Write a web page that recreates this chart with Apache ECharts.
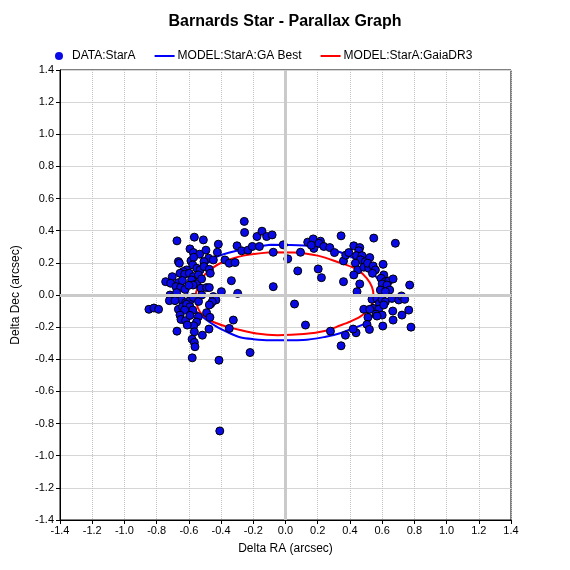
<!DOCTYPE html>
<html>
<head>
<meta charset="utf-8">
<script src="https://cdn.jsdelivr.net/npm/echarts@6/dist/echarts.min.js"></script>
<style>
  html, body { margin: 0; padding: 0; background: #fff; }
  #chart { width: 570px; height: 570px; }
</style>
</head>
<body>
<div id="chart"></div>
<script>
// measured positions of Barnard's Star (delta RA, delta Dec in arcsec)
var starA = [
  [-0.256, 0.458], [-0.254, 0.389], [-0.177, 0.364], [-0.146, 0.397], [-0.117, 0.364],
  [-0.566, 0.360], [-0.51, 0.343], [-0.674, 0.337], [-0.417, 0.316],
  [-0.593, 0.287], [-0.572, 0.264], [-0.533, 0.254], [-0.494, 0.279], [-0.423, 0.266],
  [-0.301, 0.306], [-0.272, 0.275], [-0.233, 0.279], [-0.206, 0.302], [-0.162, 0.302],
  [-0.665, 0.208], [-0.659, 0.198], [-0.587, 0.212], [-0.57, 0.235], [-0.477, 0.229],
  [-0.448, 0.218], [-0.506, 0.208], [-0.376, 0.218], [-0.349, 0.198], [-0.313, 0.202],
  [-0.614, 0.156], [-0.635, 0.146], [-0.576, 0.187], [-0.55, 0.166], [-0.53, 0.156],
  [-0.506, 0.177], [-0.473, 0.160], [-0.467, 0.135],
  [-0.655, 0.135], [-0.626, 0.129], [-0.597, 0.135], [-0.572, 0.114], [-0.541, 0.125],
  [-0.703, 0.114], [-0.744, 0.083], [-0.713, 0.073], [-0.665, 0.077], [-0.68, 0.052],
  [-0.651, 0.048], [-0.624, 0.035], [-0.583, 0.094], [-0.552, 0.069], [-0.574, 0.062],
  [-0.521, 0.1], [-0.525, 0.042], [-0.49, 0.046], [-0.473, 0.046], [-0.60, 0.06], [-0.64, 0.09],
  [-0.336, 0.089], [-0.297, 0.010], [-0.398, 0.021],
  [-0.717, 0.0], [-0.697, -0.01], [-0.676, 0.015], [-0.645, -0.031], [-0.721, -0.035],
  [-0.686, -0.035], [-0.62, -0.048], [-0.593, -0.035], [-0.572, -0.015], [-0.54, -0.04],
  [-0.52, 0.0], [-0.448, -0.01], [-0.432, -0.031], [-0.465, -0.056], [-0.455, -0.042], [-0.473, -0.062],
  [-0.848, -0.089], [-0.817, -0.081], [-0.788, -0.089],
  [-0.665, -0.089], [-0.64, -0.073], [-0.614, -0.058], [-0.593, -0.073], [-0.576, -0.094], [-0.626, -0.094],
  [-0.655, -0.125], [-0.649, -0.152], [-0.62, -0.16], [-0.593, -0.127], [-0.541, -0.135],
  [-0.49, -0.11], [-0.469, -0.139],
  [-0.552, -0.168], [-0.57, -0.191], [-0.61, -0.187], [-0.566, -0.229], [-0.475, -0.212],
  [-0.516, -0.25], [-0.674, -0.225],
  [-0.58, -0.275], [-0.566, -0.295], [-0.562, -0.322], [-0.579, -0.391], [-0.413, -0.406],
  [-0.22, -0.358], [-0.324, -0.156], [-0.349, -0.208], [-0.408, -0.846],
  [-0.083, 0.374], [-0.076, 0.266], [-0.076, 0.052],
  [-0.014, 0.312], [0.014, 0.225], [0.056, -0.056], [0.076, 0.150], [0.093, 0.266],
  [0.138, 0.329], [0.172, 0.349], [0.217, 0.335], [0.176, 0.29], [0.207, 0.322], [0.238, 0.302],
  [0.275, 0.295], [0.304, 0.264], [0.345, 0.368], [0.203, 0.162], [0.223, 0.108], [0.16, 0.31],
  [0.124, -0.187], [0.279, -0.225], [0.345, -0.316], [0.372, -0.25], [0.438, -0.235], [0.42, -0.212],
  [0.36, 0.083], [0.36, 0.212], [0.374, 0.248], [0.393, 0.264], [0.424, 0.306], [0.461, 0.295],
  [0.455, 0.275], [0.44, 0.245], [0.475, 0.245], [0.465, 0.219], [0.496, 0.208], [0.523, 0.233],
  [0.548, 0.354], [0.682, 0.322],
  [0.434, 0.198], [0.449, 0.156], [0.424, 0.125], [0.486, 0.173], [0.517, 0.166], [0.51, 0.198],
  [0.544, 0.181], [0.558, 0.156], [0.606, 0.191], [0.54, 0.135],
  [0.461, 0.069], [0.444, 0.021],
  [0.61, 0.125], [0.593, 0.104], [0.62, 0.083], [0.641, 0.087], [0.668, 0.1], [0.6, 0.069],
  [0.63, 0.062], [0.647, 0.031], [0.589, 0.031], [0.62, 0.021], [0.771, 0.062],
  [0.537, -0.027], [0.568, -0.021], [0.583, -0.052], [0.6, -0.027], [0.62, -0.042], [0.661, -0.021],
  [0.703, -0.031], [0.72, -0.006], [0.74, -0.027], [0.543, -0.083], [0.579, -0.089], [0.61, -0.062],
  [0.562, -0.119], [0.6, -0.125],
  [0.486, -0.089], [0.523, -0.089], [0.512, -0.139], [0.568, -0.131], [0.666, -0.1], [0.765, -0.094],
  [0.723, -0.125], [0.668, -0.156], [0.506, -0.183], [0.521, -0.214], [0.604, -0.193], [0.779, -0.2]
]

// model orbit, GA best fit
var gaBest = [
  [-0.093, 0.312], [0.114, 0.308], [0.217, 0.298], [0.3, 0.28], [0.39, 0.245], [0.48, 0.195],
  [0.55, 0.13], [0.595, 0.06], [0.61, 0.0], [0.6, -0.05], [0.57, -0.1], [0.53, -0.145],
  [0.495, -0.176], [0.422, -0.207], [0.339, -0.238], [0.25, -0.26], [0.11, -0.28],
  [-0.1, -0.282], [-0.2, -0.275], [-0.283, -0.263], [-0.345, -0.238], [-0.428, -0.197],
  [-0.49, -0.156], [-0.553, -0.104], [-0.59, -0.06], [-0.61, 0.0], [-0.6, 0.06], [-0.56, 0.13],
  [-0.5, 0.185], [-0.428, 0.238], [-0.283, 0.28], [-0.2, 0.298], [-0.093, 0.312]
]

// model orbit, Gaia DR3 parallax
var gaiaDR3 = [
  [-0.093, 0.266], [0.05, 0.265], [0.2, 0.245], [0.339, 0.2], [0.41, 0.175], [0.453, 0.153],
  [0.505, 0.104], [0.536, 0.052], [0.546, 0.0], [0.54, -0.052], [0.515, -0.093], [0.464, -0.135],
  [0.401, -0.166], [0.339, -0.19], [0.25, -0.222], [0.114, -0.243], [-0.05, -0.25], [-0.18, -0.24],
  [-0.283, -0.218], [-0.366, -0.197], [-0.428, -0.176], [-0.49, -0.145], [-0.532, -0.104],
  [-0.553, -0.052], [-0.557, 0.0], [-0.543, 0.052], [-0.511, 0.114], [-0.47, 0.156],
  [-0.387, 0.207], [-0.262, 0.245], [-0.093, 0.266]
]

var axisMin = -1.4
var axisMax = 1.4
var axisStep = 0.2

var chart = echarts.init(document.getElementById('chart'))
var font = 'Liberation Sans, Arial, sans-serif'

function fmt (v) {
  if (Math.abs(v) < 1e-9) return '0.0'
  return v.toFixed(1)
}

var hidden = { color: 'rgba(0,0,0,0)', borderColor: 'rgba(0,0,0,0)', borderWidth: 0 }

var option = {
  backgroundColor: '#fff',
  animation: false,
  textStyle: { fontFamily: font },
  title: {
    text: 'Barnards Star - Parallax Graph',
    left: 'center',
    top: 9,
    textStyle: { fontSize: 16, fontWeight: 'bold', color: '#000', fontFamily: font }
  },
  legend: {
    left: 50,
    top: 45,
    itemWidth: 20,
    itemHeight: 8,
    itemGap: 18,
    textStyle: { fontSize: 12, color: '#000', fontFamily: font, padding: [0, 0, 0, -2] },
    data: [
      { name: 'DATA:StarA', icon: 'circle', itemStyle: { borderWidth: 0 } },
      { name: 'MODEL:StarA:GA Best', itemStyle: hidden, lineStyle: { color: '#0000ff', width: 2 } },
      { name: 'MODEL:StarA:GaiaDR3', itemStyle: hidden, lineStyle: { color: '#ff0000', width: 2 } }
    ]
  },
  grid: {
    left: 60,
    right: 59,
    top: 70,
    bottom: 50,
    show: true,
    borderColor: '#000',
    borderWidth: 1
  },
  xAxis: {
    type: 'value',
    min: axisMin,
    max: axisMax,
    interval: axisStep,
    name: 'Delta RA (arcsec)',
    nameLocation: 'middle',
    nameGap: 23,
    nameTextStyle: { fontSize: 12, color: '#000' },
    axisLine: { onZero: false, lineStyle: { color: '#000', width: 1 } },
    axisTick: { show: true, length: 4, lineStyle: { color: '#000' } },
    axisLabel: { formatter: fmt, fontSize: 11, color: '#000', margin: 5 },
    splitLine: { show: true, lineStyle: { color: '#c4c4c4', type: 'dotted', width: 1 } }
  },
  yAxis: {
    type: 'value',
    min: axisMin,
    max: axisMax,
    interval: axisStep,
    name: 'Delta Dec (arcsec)',
    nameLocation: 'middle',
    nameGap: 38,
    nameTextStyle: { fontSize: 12, color: '#000' },
    axisLine: { onZero: false, lineStyle: { color: '#000', width: 1 } },
    axisTick: { show: true, length: 4, lineStyle: { color: '#000' } },
    axisLabel: { formatter: fmt, fontSize: 11, color: '#000', margin: 6 },
    splitLine: { show: true, lineStyle: { color: '#d6d6d6', type: 'solid', width: 1 } }
  },
  series: [
    {
      name: 'MODEL:StarA:GaiaDR3',
      type: 'line',
      data: gaiaDR3,
      symbol: 'none',
      smooth: 0.3,
      z: 2,
      color: '#ff0000',
      lineStyle: { color: '#ff0000', width: 2 },
      markLine: {
        silent: true,
        symbol: 'none',
        label: { show: false },
        lineStyle: { color: '#cacaca', width: 3, type: 'solid' },
        data: [{ xAxis: 0 }, { yAxis: 0 }]
      }
    },
    {
      name: 'MODEL:StarA:GA Best',
      type: 'line',
      data: gaBest,
      symbol: 'none',
      smooth: 0.3,
      z: 3,
      color: '#0000ff',
      lineStyle: { color: '#0000ff', width: 2 }
    },
    {
      name: 'DATA:StarA',
      type: 'scatter',
      data: starA,
      symbol: 'circle',
      symbolSize: 8,
      z: 4,
      itemStyle: { color: '#0a0ae6', borderColor: '#000', borderWidth: 1, opacity: 1 }
    }
  ]
}

chart.setOption(option)
</script>
</body>
</html>
